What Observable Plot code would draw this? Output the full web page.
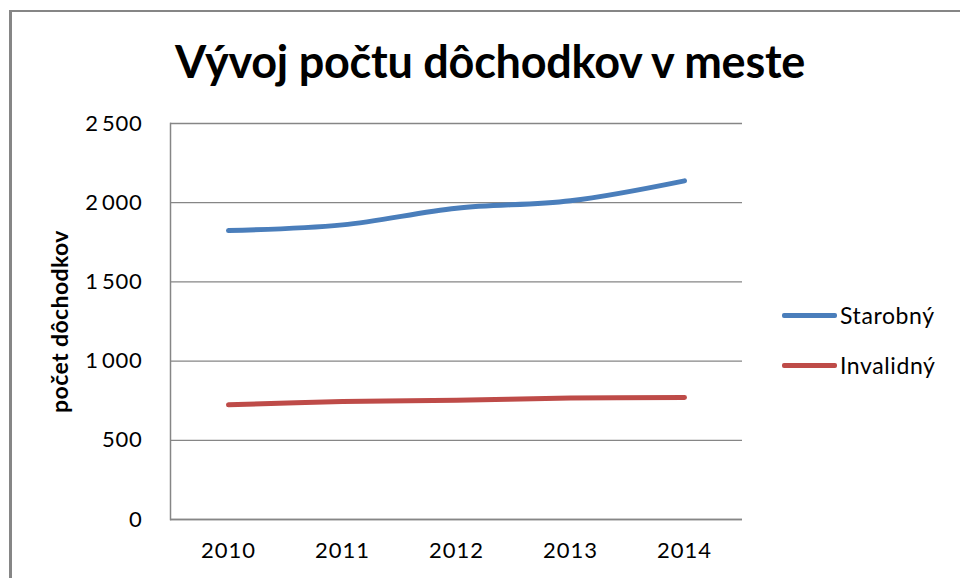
<!DOCTYPE html>
<html><head><meta charset="utf-8">
<script src="https://cdn.jsdelivr.net/npm/d3@7"></script>
<script src="https://cdn.jsdelivr.net/npm/@observablehq/plot@0.6"></script>
<style>
body{margin:0;background:#fff;}
#wrap{position:relative;width:960px;height:578px;overflow:hidden;font-family:Lato,sans-serif;color:#000;background:#fff;}
#border{position:absolute;left:9px;top:10px;width:1000px;height:700px;border-left:3px solid #868686;border-top:2px solid #868686;box-sizing:border-box;}
#title{position:absolute;left:0;width:980px;top:36px;text-align:center;font-size:45px;font-weight:bold;line-height:1;white-space:nowrap;}
#title span{display:inline-block;}
#chart{position:absolute;left:0;top:0;}
.leg{position:absolute;left:782px;height:24px;display:flex;align-items:center;font-size:23px;letter-spacing:0.6px;}
.leg .sw{width:55px;height:5px;border-radius:2px;margin-right:3px;}
</style></head>
<body>
<div id="wrap">
  <div id="border"></div>
  <div id="chart"></div>
  <div id="title"><span id="titletext">Vývoj počtu dôchodkov v meste</span></div>
  <div id="legend"></div>
</div>
<script>
const years = ["2010", "2011", "2012", "2013", "2014"];
const seriesNames = ["Starobný", "Invalidný"];
const starobny = [1824, 1860, 1965, 2012, 2138];
const invalidny = [724, 745, 753, 767, 770];
const colors = ["#4A7EBB", "#BE4B48"];
const yTicks = [0, 500, 1000, 1500, 2000, 2500];
const yTitle = "počet dôchodkov";

const rows = [];
years.forEach((yr, i) => {
  rows.push({year: yr, series: seriesNames[0], value: starobny[i]});
  rows.push({year: yr, series: seriesNames[1], value: invalidny[i]});
});

const fmt = n => n >= 1000 ? `${Math.floor(n / 1000)}\u2009${String(n % 1000).padStart(3, "0")}` : String(n);

const grid = "#868686";
const plot = Plot.plot({
  width: 960,
  height: 578,
  marginTop: 123,
  marginBottom: 59,
  marginLeft: 170,
  marginRight: 218,
  style: {fontFamily: "Lato, sans-serif", fontSize: "22px", color: "#000", background: "transparent", overflow: "visible"},
  x: {type: "point", domain: years, padding: 0.5},
  y: {domain: [0, 2500]},
  color: {domain: seriesNames, range: colors},
  marks: [
    Plot.gridY(yTicks, {stroke: grid, strokeOpacity: 1, strokeWidth: 1.3}),
    Plot.frame({anchor: "left", stroke: grid, strokeWidth: 1.5}),
    Plot.ruleY([0], {stroke: grid, strokeWidth: 1.5}),
    Plot.axisY(yTicks, {tickSize: 0, tickPadding: 28, tickFormat: fmt, label: yTitle, labelAnchor: "center", labelOffset: 119, labelArrow: "none"}),
    Plot.axisX({tickSize: 0, tickPadding: 23, label: null}),
    Plot.line(rows, {x: "year", y: "value", z: "series", stroke: "series", strokeWidth: 5, curve: "catmull-rom", strokeLinecap: "round"})
  ]
});
document.getElementById("chart").appendChild(plot);
const svg = d3.select(plot);
svg.selectAll('g[aria-label="y-axis tick label"] text').style("letter-spacing", "0.7px");
svg.selectAll('g[aria-label="x-axis tick label"] text').style("letter-spacing", "1px");
svg.selectAll('g[aria-label="y-axis label"] text').style("font-weight", "bold").style("font-size", "23px").style("letter-spacing", "0.4px");

// fit title width to the reference span by tightening letter spacing
const tt = document.getElementById("titletext");
const title = document.getElementById("title");
const fs = 45;
const targetW = 630;
const w0 = tt.getBoundingClientRect().width;
const nChars = tt.textContent.length;
tt.style.letterSpacing = ((targetW - w0) / nChars) + "px";
title.style.top = (79 - 0.887 * fs) + "px";

const legend = document.getElementById("legend");
seriesNames.forEach((s, i) => {
  const d = document.createElement("div");
  d.className = "leg";
  d.style.top = (303 + i * 50) + "px";
  d.innerHTML = `<span class="sw" style="background:${colors[i]}"></span><span>${s}</span>`;
  legend.appendChild(d);
});
</script>
</body></html>
